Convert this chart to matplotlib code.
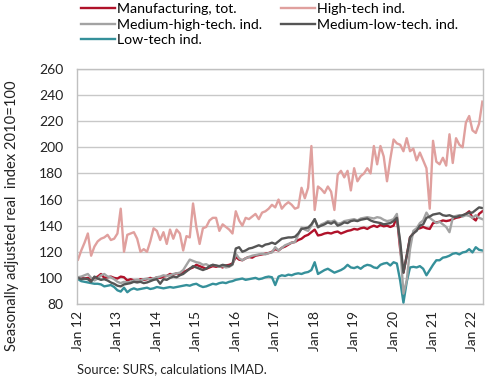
import numpy as np
import matplotlib
matplotlib.use("Agg")
import matplotlib.pyplot as plt

plt.rcParams['font.family'] = ['Lato', 'DejaVu Sans']

tick_labels = ["Jan 12", "Jan 13", "Jan 14", "Jan 15", "Jan 16", "Jan 17",
               "Jan 18", "Jan 19", "Jan 20", "Jan 21", "Jan 22"]

manufacturing = [
    100.5, 100, 99.5, 100, 99, 100, 101, 103, 100, 100.5, 101, 100,
    99.5, 101, 100.5, 98, 99, 98, 97.5, 99, 98.5, 99, 100, 99,
    100.5, 100, 101, 101.5, 103, 102.5, 103.5, 103, 104.5, 105.5, 107, 108,
    110, 109, 108, 107, 108, 109, 108.5, 109, 108, 109.5, 110, 111,
    116, 114, 113.5, 115, 116, 115.5, 117, 117.5, 118, 118.5, 119, 120,
    122, 121, 123, 124, 125.5, 127, 127.5, 129, 130, 132, 133, 135,
    137, 132.5, 133, 134, 134.5, 134, 135, 135.5, 134, 135, 136, 136.5,
    137.5, 137, 138, 138.5, 137.5, 139, 140, 139, 140.5, 139.5, 140, 139,
    140, 147, 122, 104, 117, 131, 134, 137.5, 138, 139, 138, 137.5,
    142, 142.5, 143, 144, 143.5, 144, 145, 146, 146.5, 147.5, 149, 151,
    146, 144, 149, 151]

high_tech = [
    114, 121, 127, 134, 117, 124, 128, 130, 131, 133, 129, 130,
    134, 153, 120, 133, 134, 135, 130, 120, 122, 120, 128, 138,
    136, 129, 135, 126, 137, 130, 137, 134, 121, 132, 131, 157,
    139, 126, 138, 139, 144, 146, 146, 136, 141, 139, 137, 134,
    151, 144, 140, 146, 145, 147, 149, 145, 150, 151, 153, 156,
    154, 160, 153, 156, 158, 156, 153, 154, 169, 161, 169, 201,
    152, 170, 168, 165, 170, 166, 152, 179, 182, 177, 182, 167,
    184, 174, 178, 180, 184, 180, 201, 187, 201, 193, 174, 191,
    206, 203, 202, 197, 207, 197, 199, 190, 196, 190, 184, 153,
    205, 189, 187, 192, 186, 210, 188, 207, 202, 200, 219, 224,
    213, 211, 218, 235]

medium_high = [
    100.5, 101, 102, 103, 100, 98, 99.5, 102, 103, 101, 100.5, 99,
    97, 96, 97, 96.5, 97, 98, 98.5, 98, 99, 99.5, 99, 99.5,
    100.5, 101, 102, 101.5, 102, 103, 103.5, 104, 106, 110, 114, 113,
    112, 111.5, 110, 110.5, 109, 110, 109.5, 108.5, 109, 108, 108.5, 110,
    118.5, 115, 113.5, 115, 116, 117, 117.5, 118, 118.5, 118, 119, 119.5,
    123.5, 121, 123, 125, 126, 127, 127.5, 133, 138.5, 137, 136, 140,
    145, 138.5, 141, 142, 143.5, 143, 144, 141.5, 142, 143.5, 144, 144.5,
    145, 144, 145.5, 146, 146.5, 146, 145.5, 146.5, 146, 144.5, 143.5, 144,
    145, 149, 125, 88, 98, 122, 136, 138, 142, 144, 150, 146,
    144, 142, 143, 141, 139, 135, 146, 147.5, 148, 147, 148, 147.5,
    146, 148, 146, 145]

medium_low = [
    100, 99, 99.5, 99, 97, 101, 99.5, 98.5, 99, 98, 96.5, 95.5,
    94, 93.5, 95, 95.5, 96, 97, 96.5, 97, 96, 96.5, 97.5, 98.5,
    99, 95.5, 99, 98.5, 100, 101, 100.5, 102, 103, 105, 107, 109,
    108, 107, 106, 107, 109, 110, 109.5, 109, 110, 109.5, 109, 110.5,
    122.5, 123.5, 120, 121, 122.5, 123, 124, 125, 124, 125.5, 126, 127,
    126, 128, 130, 130.5, 131, 131, 131.5, 134, 137.5, 138, 138.5, 141,
    145, 139, 140, 141, 142.5, 141.5, 143, 140, 141, 142.5, 142, 143.5,
    144, 143.5, 144.5, 145, 145.5, 144, 143, 142.5, 142, 141, 141.5, 142,
    143.5, 146, 128, 104, 117, 131, 134, 136, 140, 141, 146, 147,
    148.5, 149, 149.5, 148, 147.5, 148, 147, 146.5, 147.5, 148, 149, 150,
    150, 152, 154, 153.5]

low_tech = [
    99, 97.5, 97, 96.5, 96, 95.5, 95.5, 95, 93.5, 94, 94.5, 93,
    90.5, 89.5, 92.5, 89, 91, 92, 91, 91.5, 92, 92.5, 91.5, 92,
    93, 92.5, 92, 92.5, 93, 92.5, 93, 93.5, 94, 94.5, 94, 95,
    95.5, 94, 93, 93.5, 94.5, 95.5, 95, 96, 96.5, 96, 97, 97.5,
    98.5, 99, 99.5, 98.5, 99, 99.5, 100, 99, 99.5, 100.5, 101, 100.5,
    94.5, 101, 102, 101.5, 102.5, 102, 103, 103.5, 103, 104, 104.5, 106,
    112, 103, 104.5, 106, 107, 105.5, 104, 105, 106, 107.5, 110, 108,
    107.5, 108.5, 107, 109, 110, 109.5, 108, 107.5, 110, 111, 111.5, 109.5,
    112, 111, 98, 81, 97, 108, 108.5, 108, 109, 107, 102, 106,
    110, 113.5, 113.5, 115.5, 116, 117, 118.5, 119, 118, 119.5, 120, 122,
    119.5, 123.5, 121.5, 121]

x = np.arange(len(manufacturing))

fig = plt.figure(figsize=(4.9, 3.8), dpi=100)
ax = fig.add_axes([77/490, 1-304/380, (483-77)/490, (304-69)/380])

lw = 1.7
l_ht, = ax.plot(x, high_tech, color='#e0a09e', lw=lw, label='High-tech ind.')
l_lt, = ax.plot(x, low_tech, color='#35909a', lw=lw, label='Low-tech ind.')
l_m, = ax.plot(x, manufacturing, color='#b0122a', lw=lw, label='Manufacturing, tot.')
l_mh, = ax.plot(x, medium_high, color='#a3a3a3', lw=lw, label='Medium-high-tech. ind.')
l_ml, = ax.plot(x, medium_low, color='#555555', lw=lw, label='Medium-low-tech. ind.')

ax.set_ylim(80, 260)
ax.set_yticks(np.arange(80, 261, 20))
ax.set_xlim(-0.3, 123.2)
ax.set_xticks(np.arange(0, 121, 12))
ax.set_xticklabels(tick_labels, rotation=90)
ax.tick_params(length=0, labelsize=10, colors='#222222')
ax.tick_params(axis='y', pad=10)
ax.tick_params(axis='x', pad=5)
ax.grid(axis='y', color='#c8c8c8', lw=1)
ax.set_axisbelow(True)
for s in ax.spines.values():
    s.set_color('#c0c0c0')
    s.set_linewidth(1)

fig.legend([l_m, l_mh, l_lt, l_ht, l_ml],
           ['Manufacturing, tot.', 'Medium-high-tech. ind.', 'Low-tech ind.',
            'High-tech ind.', 'Medium-low-tech. ind.'],
           ncol=2, loc='upper left', bbox_to_anchor=(78/490, 1.0),
           frameon=False, fontsize=10.2, handlelength=2.4, handletextpad=0.15,
           columnspacing=1.3, labelspacing=0.26, borderaxespad=0.0,
           borderpad=0.2)

fig.text(12/490, 1-216/380, 'Seasonally adjusted real  index 2010=100',
         rotation=90, ha='center', va='center', fontsize=10.6, color='#222222')
fig.text(77/490, 1-369/380, 'Source: SURS, calculations IMAD.',
         ha='left', va='center', fontsize=9.3, color='#222222')

fig.savefig('out.png', dpi=100)
